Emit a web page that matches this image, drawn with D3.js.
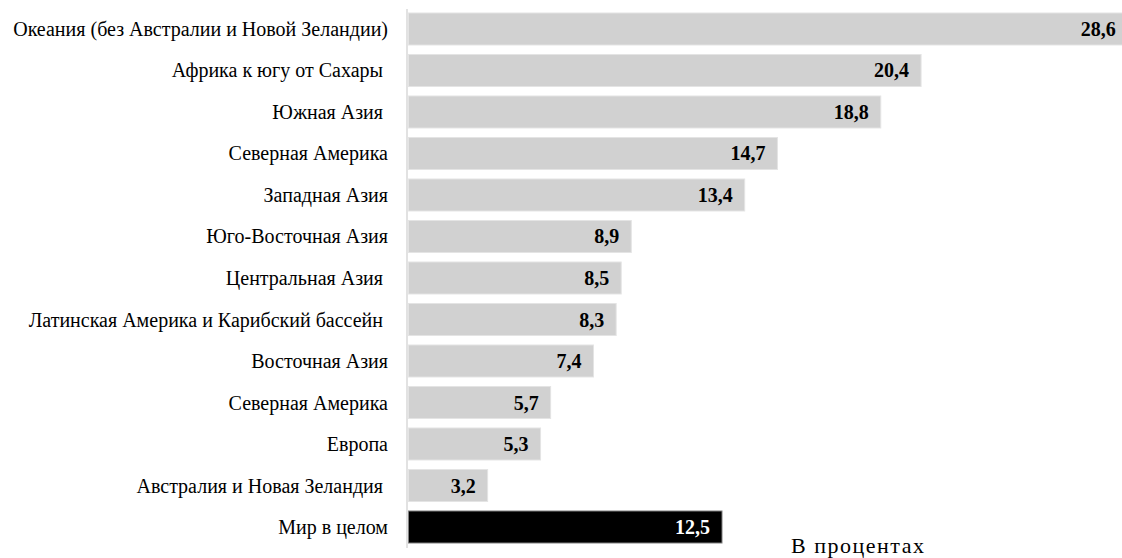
<!DOCTYPE html>
<html><head><meta charset="utf-8">
<script src="https://cdn.jsdelivr.net/npm/d3@7"></script>
<style>
html,body{margin:0;padding:0;background:#fff;}
svg{display:block;}
text{font-family:"Liberation Serif","Times New Roman",Tinos,serif;}
</style></head>
<body>
<svg id="chart" width="1122" height="558"></svg>
<script>
const categories = [
  "Океания (без Австралии и Новой Зеландии)",
  "Африка к югу от Сахары ",
  "Южная Азия ",
  "Северная Америка",
  "Западная Азия",
  "Юго-Восточная Азия",
  "Центральная Азия ",
  "Латинская Америка и Карибский бассейн ",
  "Восточная Азия",
  "Северная Америка",
  "Европа",
  "Австралия и Новая Зеландия ",
  "Мир в целом"
];
const values = [28.6, 20.4, 18.8, 14.7, 13.4, 8.9, 8.5, 8.3, 7.4, 5.7, 5.3, 3.2, 12.5];
const highlight = [false,false,false,false,false,false,false,false,false,false,false,false,true];
const unitLabel = "В процентах";

const svg = d3.select("#chart");
const x0 = 407;
const x = d3.scaleLinear().domain([0, 1]).range([x0, x0 + 25.2]);
const y = d3.scaleBand().domain(d3.range(categories.length)).range([13, 543]).paddingInner(0.229).paddingOuter(0);

const data = categories.map((c, i) => ({c, v: values[i], h: highlight[i], i}));

svg.append("g").selectAll("rect").data(data).join("rect")
  .attr("x", x(0) + 1.5)
  .attr("y", d => y(d.i))
  .attr("width", d => x(d.v) - x(0) - 1.5)
  .attr("height", y.bandwidth())
  .attr("fill", d => d.h ? "#000" : "#d1d1d1")
  .attr("stroke", d => d.h ? "#7f7f7f" : "#e4e4e4")
  .attr("stroke-width", 1);

svg.append("line")
  .attr("x1", x0).attr("x2", x0)
  .attr("y1", 9).attr("y2", 548)
  .attr("stroke", "#d9d9d9").attr("stroke-width", 1.5);

svg.append("g").selectAll("text").data(data).join("text")
  .attr("x", 388)
  .attr("y", d => y(d.i) + y.bandwidth() / 2)
  .attr("dy", "0.35em")
  .attr("text-anchor", "end")
  .attr("font-size", 20)
  .attr("fill", "#000")
  .style("white-space", "pre")
  .text(d => d.c);

svg.append("g").selectAll("text").data(data).join("text")
  .attr("x", d => x(d.v) - 12)
  .attr("y", d => y(d.i) + y.bandwidth() / 2)
  .attr("dy", "0.35em")
  .attr("text-anchor", "end")
  .attr("font-size", 20)
  .attr("font-weight", "bold")
  .attr("fill", d => d.h ? "#fff" : "#000")
  .text(d => d3.format(".1f")(d.v).replace(".", ","));

svg.append("text")
  .attr("x", 791).attr("y", 553)
  .attr("font-size", 22)
  .attr("letter-spacing", 1.5)
  .attr("fill", "#000")
  .text(unitLabel);
</script>
</body></html>
